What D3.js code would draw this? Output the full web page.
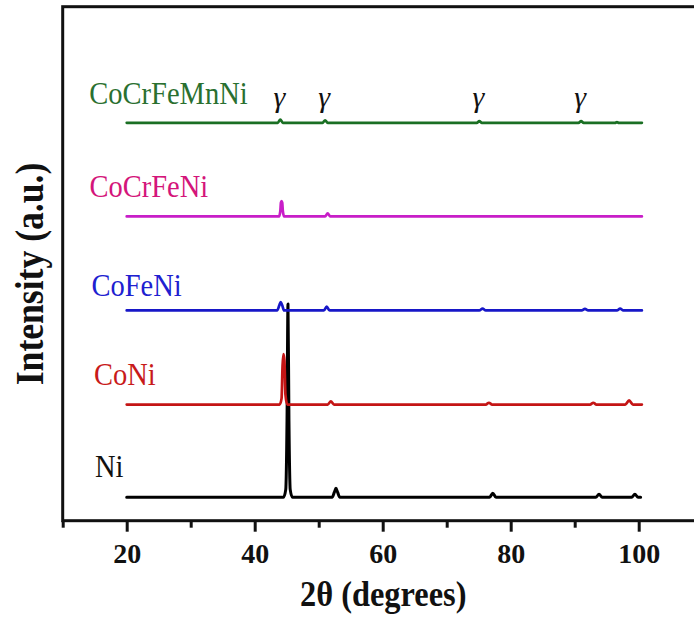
<!DOCTYPE html>
<html>
<head>
<meta charset="utf-8">
<script src="https://cdn.jsdelivr.net/npm/d3@7"></script>
<style>
  html, body { margin: 0; padding: 0; background: #fff; }
  svg { display: block; }
</style>
</head>
<body>
<div id="chart"></div>
<script>
// XRD patterns of Ni-based alloys, stacked with vertical offsets.
const sampleNames = ["Ni", "CoNi", "CoFeNi", "CoCrFeNi", "CoCrFeMnNi"];
const offsets = [4.55, 22.6, 40.9, 59.2, 77.4];

// [2θ, intensity above the pattern's own baseline]
const niPattern = [
  [20, 0], [44.5, 0], [44.85, 1.5], [45.05, 15], [45.2, 37.6], [45.35, 15], [45.55, 1.5], [45.9, 0],
  [52.1, 0], [52.45, 1.0], [52.7, 1.75], [52.95, 1.0], [53.3, 0],
  [76.7, 0], [77.2, 0.8], [77.7, 0],
  [93.3, 0], [93.8, 0.6], [94.3, 0],
  [98.9, 0], [99.4, 0.6], [99.9, 0], [100.3, 0]
];
const coNiPattern = [
  [20, 0], [43.9, 0], [44.2, 1.2], [44.35, 7.5], [44.5, 9.8], [44.65, 8.5], [44.8, 2], [45.1, 0],
  [51.4, 0], [51.9, 0.6], [52.4, 0],
  [76.1, 0], [76.6, 0.35], [77.1, 0],
  [92.4, 0], [92.9, 0.35], [93.4, 0],
  [97.9, 0], [98.5, 0.8], [99.1, 0], [100.5, 0]
];
const coFeNiPattern = [
  [20, 0], [43.5, 0], [43.85, 1.0], [44.06, 1.65], [44.3, 1.0], [44.6, 0],
  [50.8, 0], [51.25, 0.75], [51.7, 0],
  [75.1, 0], [75.6, 0.35], [76.1, 0],
  [91.1, 0], [91.6, 0.3], [92.1, 0],
  [96.6, 0], [97.1, 0.35], [97.6, 0], [100.5, 0]
];
const coCrFeNiPattern = [
  [20, 0], [43.8, 0], [44.0, 1.0], [44.1, 2.7], [44.2, 3.0], [44.3, 2.7], [44.4, 1.0], [44.6, 0],
  [51.0, 0], [51.4, 0.6], [51.8, 0], [100.5, 0]
];
const coCrFeMnNiPattern = [
  [20, 0], [43.6, 0], [44.0, 0.65], [44.4, 0],
  [50.6, 0], [51.0, 0.5], [51.4, 0],
  [74.7, 0], [75.1, 0.35], [75.5, 0],
  [90.6, 0], [91.0, 0.35], [91.4, 0],
  [96.3, 0], [96.6, 0.15], [96.9, 0], [100.5, 0]
];
const patterns = [niPattern, coNiPattern, coFeNiPattern, coCrFeNiPattern, coCrFeMnNiPattern];

// FCC (γ) reflections marked above the five-element alloy
const gammaPeaks = [44.0, 51.0, 75.1, 91.0];

const majorTicks = [20, 40, 60, 80, 100];
const minorTicks = [10, 30, 50, 70, 90, 110];

// styling
const lineColors  = ["#000000", "#c41515", "#1717c8", "#c81ec8", "#1a6f23"];
const labelColors = ["#111111", "#c81a1a", "#2020d0", "#d4157a", "#2a7030"];
const labelX      = [95, 94, 91.5, 89.5, 89.3];
const labelRaise  = [20, 19.5, 14.5, 19, 19];

const W = 694, H = 617;
const margin = { left: 62.7, top: 6.7, bottom: 520.7, right: 702.7 };
const serif = "'Liberation Serif', 'Times New Roman', serif";

const svg = d3.select("#chart").append("svg")
  .attr("width", W).attr("height", H);

const x = d3.scaleLinear().domain([10, 110]).range([margin.left, margin.right]);
const y = d3.scaleLinear().domain([0, 100]).range([margin.bottom, margin.top]);

// patterns
const line = d3.line()
  .x(d => x(d[0]))
  .y(d => d[1])
  .curve(d3.curveMonotoneX);

patterns.forEach((pts, i) => {
  const shifted = pts.map(p => [p[0], y(p[1] + offsets[i])]);
  svg.append("path")
    .attr("d", line(shifted))
    .attr("fill", "none")
    .attr("stroke", lineColors[i])
    .attr("stroke-width", i === 0 ? 3 : 2.7)
    .attr("stroke-linejoin", "round")
    .attr("stroke-linecap", "round");
});

// sample names
sampleNames.forEach((name, i) => {
  svg.append("text")
    .attr("transform", `translate(${labelX[i]},${y(offsets[i]) - labelRaise[i]}) scale(0.92,1)`)
    .attr("font-family", serif)
    .attr("font-size", 31)
    .attr("fill", labelColors[i])
    .text(name);
});

// γ markers
svg.selectAll("text.gamma").data(gammaPeaks).enter().append("text")
  .attr("class", "gamma")
  .attr("x", d => x(d) - 1)
  .attr("y", y(offsets[4]) - 16)
  .attr("text-anchor", "middle")
  .attr("font-family", serif)
  .attr("font-style", "italic")
  .attr("font-size", 30)
  .attr("fill", "#111")
  .text("γ");

// frame (right side lies past the window edge)
svg.append("rect")
  .attr("x", margin.left).attr("y", margin.top)
  .attr("width", margin.right - margin.left)
  .attr("height", margin.bottom - margin.top)
  .attr("fill", "none")
  .attr("stroke", "#111")
  .attr("stroke-width", 3);

// bottom axis: labelled major ticks and shorter minor ticks
const majorAxis = d3.axisBottom(x).tickValues(majorTicks).tickSize(11).tickPadding(11).tickFormat(d3.format("d"));
const minorAxis = d3.axisBottom(x).tickValues(minorTicks).tickSize(7).tickFormat("");

const gMajor = svg.append("g").attr("transform", `translate(0,${margin.bottom})`).call(majorAxis);
const gMinor = svg.append("g").attr("transform", `translate(0,${margin.bottom})`).call(minorAxis);
[gMajor, gMinor].forEach(g => {
  g.select(".domain").remove();
  g.selectAll(".tick line").attr("stroke", "#111").attr("stroke-width", 3);
});
gMajor.selectAll(".tick text")
  .attr("font-family", serif)
  .attr("font-size", 28)
  .attr("font-weight", "bold")
  .attr("fill", "#111");

// axis titles
svg.append("text")
  .attr("transform", `translate(${(x(20) + x(100)) / 2 + 0.5},606) scale(0.9,1)`)
  .attr("text-anchor", "middle")
  .attr("font-family", serif)
  .attr("font-size", 36)
  .attr("font-weight", "bold")
  .attr("fill", "#111")
  .text("2θ (degrees)");

svg.append("text")
  .attr("transform", "translate(43,274) rotate(-90) scale(0.89,1)")
  .attr("text-anchor", "middle")
  .attr("font-family", serif)
  .attr("font-size", 40)
  .attr("font-weight", "bold")
  .attr("fill", "#111")
  .text("Intensity (a.u.)");
</script>
</body>
</html>
